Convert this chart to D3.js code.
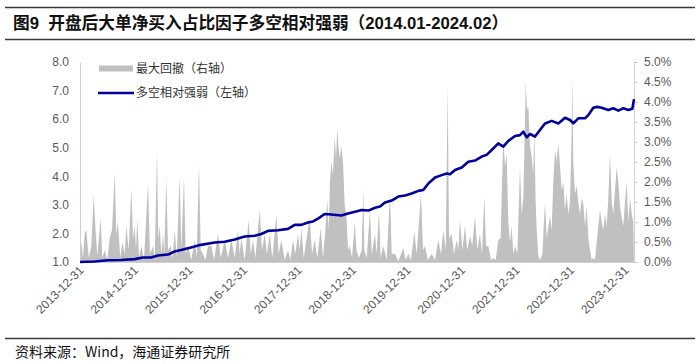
<!DOCTYPE html>
<html>
<head>
<meta charset="utf-8">
<script src="https://cdn.jsdelivr.net/npm/d3@7"></script>
<style>
  body { margin: 0; background: #fff; }
  svg { display: block; font-family: "Liberation Sans", Arial, "Noto Sans CJK SC", sans-serif; }
  .cn { font-family: "Noto Sans CJK SC", sans-serif; }
</style>
</head>
<body>
<svg id="chart" width="700" height="364"></svg>
<script>
// ---- data ----
// time is in fractional years: 2014.0 = 2013-12-31
var xTicks = [2014, 2015, 2016, 2017, 2018, 2019, 2020, 2021, 2022, 2023, 2024];
var xTickLabels = ["2013-12-31", "2014-12-31", "2015-12-31", "2016-12-31", "2017-12-31", "2018-12-31",
                   "2019-12-31", "2020-12-31", "2021-12-31", "2022-12-31", "2023-12-31"];
var leftTicks = [1, 2, 3, 4, 5, 6, 7, 8];
var rightTicks = [0, 0.5, 1, 1.5, 2, 2.5, 3, 3.5, 4, 4.5, 5];

// 多空相对强弱 (left axis)
var lsYear = [2014.000, 2014.270, 2014.514, 2014.752, 2015.004, 2015.156, 2015.303, 2015.431, 2015.615, 2015.738,
  2015.853, 2016.037, 2016.220, 2016.472, 2016.655, 2016.839, 2017.022, 2017.206, 2017.327, 2017.450,
  2017.633, 2017.817, 2017.939, 2018.061, 2018.183, 2018.275, 2018.367, 2018.490, 2018.611, 2018.795,
  2018.917, 2019.046, 2019.169, 2019.290, 2019.413, 2019.505, 2019.596, 2019.719, 2019.840, 2019.963,
  2020.086, 2020.207, 2020.299, 2020.391, 2020.514, 2020.637, 2020.728, 2020.789, 2020.881, 2021.004,
  2021.125, 2021.248, 2021.371, 2021.462, 2021.554, 2021.675, 2021.767, 2021.859, 2021.982, 2022.073,
  2022.134, 2022.196, 2022.257, 2022.349, 2022.440, 2022.532, 2022.655, 2022.776, 2022.899, 2022.991,
  2023.051, 2023.143, 2023.266, 2023.327, 2023.418, 2023.490, 2023.572, 2023.694, 2023.785, 2023.877,
  2023.969, 2024.061, 2024.134, 2024.165];
var lsValue = [1.00, 1.02, 1.06, 1.07, 1.10, 1.16, 1.16, 1.23, 1.26, 1.37,
  1.42, 1.51, 1.60, 1.68, 1.71, 1.79, 1.89, 1.92, 1.98, 2.09,
  2.11, 2.16, 2.30, 2.30, 2.38, 2.42, 2.52, 2.68, 2.66, 2.63,
  2.70, 2.76, 2.82, 2.80, 2.90, 2.94, 3.08, 3.15, 3.29, 3.33,
  3.40, 3.49, 3.52, 3.75, 3.96, 4.04, 4.10, 4.07, 4.22, 4.31,
  4.51, 4.55, 4.69, 4.75, 4.92, 5.15, 5.04, 5.24, 5.41, 5.44,
  5.56, 5.36, 5.48, 5.39, 5.62, 5.85, 5.94, 5.85, 6.05, 5.97,
  5.85, 6.03, 6.03, 6.14, 6.40, 6.43, 6.40, 6.32, 6.38, 6.30,
  6.38, 6.32, 6.36, 6.70];

// 最大回撤 (right axis, %)
var ddYear = [2014.000, 2014.024, 2014.055, 2014.086, 2014.116, 2014.160, 2014.207, 2014.251, 2014.281, 2014.317,
  2014.380, 2014.409, 2014.453, 2014.501, 2014.545, 2014.587, 2014.637, 2014.666, 2014.697, 2014.739,
  2014.776, 2014.820, 2014.850, 2014.894, 2014.941, 2014.972, 2015.004, 2015.028, 2015.051, 2015.083,
  2015.125, 2015.174, 2015.248, 2015.284, 2015.339, 2015.371, 2015.413, 2015.437, 2015.462, 2015.492,
  2015.523, 2015.547, 2015.583, 2015.615, 2015.664, 2015.701, 2015.738, 2015.774, 2015.829, 2015.859,
  2015.908, 2015.939, 2015.982, 2016.042, 2016.105, 2016.141, 2016.183, 2016.215, 2016.257, 2016.299,
  2016.349, 2016.409, 2016.459, 2016.532, 2016.582, 2016.655, 2016.716, 2016.776, 2016.839, 2016.899,
  2016.930, 2016.960, 2017.022, 2017.095, 2017.132, 2017.174, 2017.217, 2017.297, 2017.339, 2017.389,
  2017.431, 2017.481, 2017.528, 2017.602, 2017.646, 2017.694, 2017.756, 2017.817, 2017.859, 2017.908,
  2017.950, 2018.000, 2018.031, 2018.061, 2018.105, 2018.215, 2018.257, 2018.306, 2018.354, 2018.417,
  2018.459, 2018.501, 2018.538, 2018.563, 2018.587, 2018.611, 2018.642, 2018.673, 2018.697, 2018.721,
  2018.747, 2018.765, 2018.795, 2018.826, 2018.857, 2018.886, 2018.917, 2018.949, 2018.991, 2019.040,
  2019.073, 2019.119, 2019.169, 2019.198, 2019.217, 2019.261, 2019.321, 2019.352, 2019.413, 2019.444,
  2019.486, 2019.517, 2019.565, 2019.628, 2019.688, 2019.719, 2019.780, 2019.840, 2019.932, 2019.976,
  2020.024, 2020.073, 2020.134, 2020.178, 2020.257, 2020.294, 2020.330, 2020.380, 2020.453, 2020.514,
  2020.574, 2020.624, 2020.666, 2020.710, 2020.747, 2020.771, 2020.820, 2020.862, 2020.912, 2020.941,
  2020.972, 2021.015, 2021.064, 2021.106, 2021.156, 2021.198, 2021.248, 2021.290, 2021.339, 2021.376,
  2021.418, 2021.450, 2021.492, 2021.541, 2021.583, 2021.628, 2021.675, 2021.719, 2021.743, 2021.767,
  2021.798, 2021.829, 2021.859, 2021.890, 2021.921, 2021.950, 2021.982, 2022.024, 2022.073, 2022.105,
  2022.134, 2022.160, 2022.178, 2022.202, 2022.226, 2022.257, 2022.288, 2022.317, 2022.336, 2022.361,
  2022.380, 2022.409, 2022.440, 2022.483, 2022.532, 2022.563, 2022.624, 2022.655, 2022.684, 2022.716,
  2022.747, 2022.776, 2022.807, 2022.839, 2022.868, 2022.899, 2022.930, 2022.960, 2022.991, 2023.015,
  2023.033, 2023.051, 2023.083, 2023.114, 2023.143, 2023.174, 2023.206, 2023.235, 2023.266, 2023.297,
  2023.327, 2023.358, 2023.389, 2023.418, 2023.450, 2023.481, 2023.510, 2023.541, 2023.572, 2023.602,
  2023.633, 2023.664, 2023.694, 2023.725, 2023.756, 2023.785, 2023.817, 2023.848, 2023.877, 2023.908,
  2023.939, 2023.969, 2024.000, 2024.031, 2024.061, 2024.092, 2024.123, 2024.152, 2024.165];
var ddValue = [0.00, 0.50, 0.10, 0.72, 0.80, 0.10, 0.40, 1.68, 0.90, 0.15,
  1.10, 0.10, 0.30, 0.05, 0.60, 0.80, 2.22, 0.70, 1.00, 0.10,
  0.50, 0.20, 0.90, 0.30, 1.84, 0.60, 0.90, 0.30, 1.10, 0.10,
  0.40, 0.05, 1.97, 0.20, 0.40, 0.05, 2.76, 0.60, 0.90, 0.20,
  0.70, 0.20, 2.10, 0.30, 0.40, 0.10, 0.80, 0.10, 2.17, 0.30,
  2.14, 0.20, 0.40, 0.05, 0.55, 0.10, 2.47, 0.30, 0.20, 0.05,
  0.40, 0.40, 0.05, 0.70, 0.10, 0.55, 0.10, 0.55, 0.10, 0.80,
  0.20, 0.60, 0.05, 1.05, 0.20, 0.55, 0.10, 1.30, 0.30, 0.70,
  0.20, 0.70, 0.10, 1.17, 0.20, 0.55, 0.05, 0.30, 0.05, 0.55,
  0.20, 0.70, 0.30, 0.85, 0.10, 1.13, 0.20, 0.55, 0.10, 0.85,
  0.10, 0.80, 1.55, 0.80, 2.00, 2.50, 2.20, 3.12, 2.60, 3.34,
  2.80, 2.60, 2.90, 2.50, 1.40, 1.20, 0.30, 0.40, 0.10, 1.00,
  0.30, 0.10, 0.30, 1.85, 0.30, 0.10, 1.30, 0.20, 0.70, 0.20,
  1.30, 0.10, 0.40, 0.05, 1.72, 0.20, 0.20, 0.02, 0.35, 0.05,
  0.20, 0.05, 0.75, 0.20, 1.72, 0.30, 0.40, 0.05, 0.20, 0.05,
  0.55, 0.20, 0.80, 0.30, 4.42, 0.60, 0.70, 0.20, 0.55, 0.30,
  1.05, 0.30, 0.90, 0.30, 0.65, 0.40, 1.15, 0.30, 0.70, 0.20,
  1.63, 0.40, 0.40, 0.05, 0.10, 0.05, 0.55, 0.60, 2.00, 3.05,
  2.40, 2.70, 1.00, 0.50, 0.90, 0.20, 0.40, 0.20, 2.37, 1.20,
  1.60, 3.20, 4.50, 3.80, 3.90, 2.90, 2.60, 2.20, 3.30, 1.50,
  0.80, 0.15, 0.05, 0.20, 1.50, 0.60, 1.15, 0.80, 2.00, 2.80,
  2.50, 2.97, 2.40, 1.80, 2.00, 1.30, 1.70, 1.20, 1.50, 2.80,
  4.60, 2.50, 1.70, 1.90, 1.50, 1.20, 1.60, 1.45, 0.90, 1.40,
  0.60, 0.30, 0.05, 0.10, 0.05, 0.50, 0.90, 1.30, 1.00, 0.80,
  1.20, 0.90, 1.60, 2.72, 1.50, 1.20, 1.80, 2.37, 2.00, 1.40,
  1.10, 0.90, 1.50, 2.00, 1.00, 1.60, 1.20, 1.00, 0.00];

var lineData = lsYear.map(function(t, i) { return {t: t, v: lsValue[i]}; });
var ddData = ddYear.map(function(t, i) { return {t: t, v: ddValue[i]}; });

// ---- layout ----
var svg = d3.select("#chart");
var plot = {left: 80, right: 634, top: 62, bottom: 262};

var x = d3.scaleLinear().domain([2014, 2024.165]).range([plot.left, plot.right]);
var yL = d3.scaleLinear().domain([1, 8]).range([plot.bottom, plot.top]);
var yR = d3.scaleLinear().domain([0, 5]).range([plot.bottom, plot.top]);

svg.append("rect").attr("width", 700).attr("height", 364).attr("fill", "#fff");

// header rules + title
svg.append("line").attr("x1", 5).attr("x2", 695).attr("y1", 7.5).attr("y2", 7.5)
  .attr("stroke", "#3a3a3a").attr("stroke-width", 1.5);
svg.append("line").attr("x1", 5).attr("x2", 695).attr("y1", 39.5).attr("y2", 39.5)
  .attr("stroke", "#3a3a3a").attr("stroke-width", 1.5);
svg.append("text")
  .attr("x", 13).attr("y", 29)
  .attr("font-size", 16.7).attr("font-weight", "bold").attr("fill", "#111")
  .attr("xml:space", "preserve")
  .style("font-family", "'Liberation Sans', 'Noto Sans CJK SC', sans-serif")
  .text("图9  开盘后大单净买入占比因子多空相对强弱（2014.01-2024.02）");

// area (drawdown, right axis)
var area = d3.area()
  .x(function(d) { return x(d.t); })
  .y0(yR(0))
  .y1(function(d) { return yR(d.v); });
svg.append("path").datum(ddData)
  .attr("d", area)
  .attr("fill", "#c0c0c0");

// axes
var axL = svg.append("g").attr("transform", "translate(" + plot.left + ",0)")
  .call(d3.axisLeft(yL).tickValues(leftTicks).tickFormat(d3.format(".1f")).tickSize(0).tickPadding(11));
var axR = svg.append("g").attr("transform", "translate(" + plot.right + ",0)")
  .call(d3.axisRight(yR).tickValues(rightTicks).tickFormat(function(d) { return d.toFixed(1) + "%"; }).tickSize(4).tickPadding(6));
var axB = svg.append("g").attr("transform", "translate(0," + plot.bottom + ")")
  .call(d3.axisBottom(x).tickValues(xTicks).tickFormat(function(d, i) { return xTickLabels[i]; }).tickSize(0));

[axL, axR, axB].forEach(function(g) {
  g.select(".domain").attr("stroke", "#d0d0d0").attr("stroke-width", 1);
  g.selectAll(".tick line").attr("stroke", "#d0d0d0");
  g.selectAll("text").attr("fill", "#595959").attr("font-size", 12)
    .style("font-family", "'Liberation Sans', Arial, sans-serif");
});
axB.selectAll("text")
  .attr("text-anchor", "end")
  .attr("dy", null).attr("y", 0)
  .attr("transform", "translate(4,9) rotate(-45)");

// line (relative strength, left axis)
var line = d3.line()
  .x(function(d) { return x(d.t); })
  .y(function(d) { return yL(d.v); });
svg.append("path").datum(lineData)
  .attr("d", line)
  .attr("fill", "none")
  .attr("stroke", "#00009c")
  .attr("stroke-width", 2.6)
  .attr("stroke-linejoin", "round");

// legend
var legend = svg.append("g").attr("class", "cn").attr("font-size", 12).attr("fill", "#333");
legend.append("rect").attr("x", 99).attr("y", 65.5).attr("width", 34).attr("height", 6).attr("fill", "#c0c0c0");
legend.append("text").attr("x", 136).attr("y", 68.5).attr("dy", "0.35em").text("最大回撤（右轴）");
legend.append("line").attr("x1", 98).attr("x2", 134).attr("y1", 93).attr("y2", 93)
  .attr("stroke", "#00009c").attr("stroke-width", 2.6);
legend.append("text").attr("x", 136).attr("y", 93).attr("dy", "0.35em").text("多空相对强弱（左轴）");

// footer
svg.append("line").attr("x1", 5).attr("x2", 695).attr("y1", 338.5).attr("y2", 338.5)
  .attr("stroke", "#3a3a3a").attr("stroke-width", 1.5);
svg.append("text").attr("class", "cn")
  .attr("x", 15).attr("y", 357)
  .attr("font-size", 14).attr("fill", "#111")
  .text("资料来源：Wind，海通证券研究所");
</script>
</body>
</html>
